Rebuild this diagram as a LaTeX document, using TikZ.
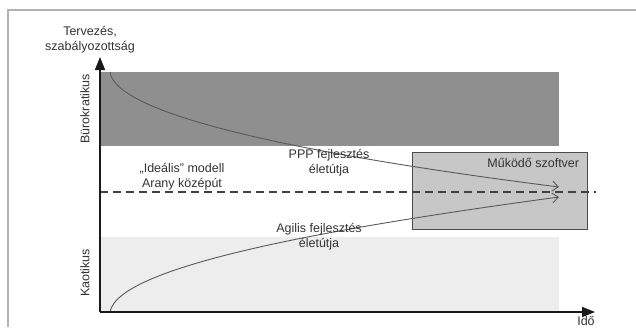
\documentclass[tikz,border=0pt]{standalone}
\usepackage{fontspec}
\setmainfont{Liberation Sans}
\usetikzlibrary{arrows.meta,positioning,calc}
\tikzset{
  % Labels: plain sans text, no frame
  lbl/.style={font=\fontsize{12.5}{15}\selectfont, text=black!80, align=center, inner sep=0pt},
  sidelbl/.style={lbl, rotate=90},
  % Background bands of the chart
  band/.style={draw=none, rectangle, inner sep=0pt, anchor=north west},
  % Target box
  swbox/.style={draw=black!70, fill=black!22, line width=1.3pt, rectangle, inner sep=0pt, anchor=north west},
  % Axes and paths
  axis/.style={line width=1.6pt, draw=black!90, -{Triangle[length=13pt,width=10pt]}},
  lifepath/.style={draw=black!65, line width=0.9pt, -{Straight Barb[length=6pt,width=10pt]}},
  ideal/.style={line width=1.6pt, draw=black!75, dash pattern=on 8pt off 5pt},
  frame/.style={line width=2pt, draw=black!30}
}
\begin{document}
\begin{tikzpicture}[x=1pt, y=-1pt]
\useasboundingbox (0,0) rectangle (636,327);

% ============== outer frame ==============
\draw[frame] (636,10) -- (8,10) -- (8,327);

% ============== bands ==============
\node[band, fill=black!44, minimum width=459pt, minimum height=74pt] (buro) at (100,72) {};
\node[band, fill=black!7, minimum width=459pt, minimum height=75pt] (kaos) at (100,237) {};
\node[swbox, minimum width=175pt, minimum height=77pt] (sw) at (412,152) {};
\node[lbl, anchor=north east] (swlbl) at ($(sw.north east)+(-9,6)$) {Működő szoftver};

% ============== ideal line ==============
\coordinate (idealL) at (100,192);
\coordinate (idealR) at (596,192);
\draw[ideal] (idealL) -- (idealR);

% ============== development paths ==============
\coordinate (pppstart) at (110,72);
\coordinate (pppend) at (559,187);
\coordinate (agstart) at (110,312);
\coordinate (agend) at (559,197);
\draw[lifepath] (pppstart) .. controls (116,118) and (330,158) .. (pppend);
\draw[lifepath] (agstart) .. controls (118,266) and (330,228) .. (agend);

% ============== axes ==============
\coordinate (origin) at (100,312);
\coordinate (ytip) at (100,57);
\coordinate (xtip) at (595,312);
\draw[axis] (origin) -- (ytip);
\draw[axis] (origin) -- (xtip);

% ============== labels ==============
\node[lbl] (ylbl) at (90,40) {Tervezés,\\szabályozottság};
\node[lbl, anchor=north] (xlbl) at (586,316) {Idő};
\node[sidelbl] (burolbl) at (85,109) {Bürokratikus};
\node[sidelbl] (kaoslbl) at (85,273) {Kaotikus};
\node[lbl] (ideallbl) at (182,177) {„Ideális” modell\\Arany középút};
\node[lbl] (ppplbl) at (329,163) {PPP fejlesztés\\életútja};
\node[lbl] (aglbl) at (319,237) {Agilis fejlesztés\\életútja};

\end{tikzpicture}
\end{document}
